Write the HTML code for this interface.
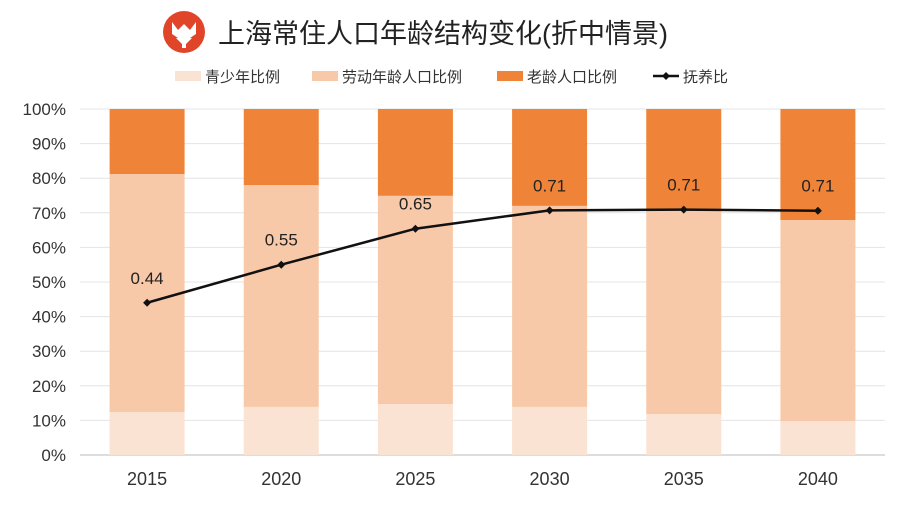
<!DOCTYPE html>
<html><head><meta charset="utf-8"><style>
body{margin:0;background:#fff;width:900px;height:500px;overflow:hidden;font-family:"Liberation Sans","Noto Sans CJK SC",sans-serif;}
</style></head><body>
<svg id="chart" width="900" height="500" xmlns="http://www.w3.org/2000/svg" style="font-family:'Liberation Sans','Noto Sans CJK SC',sans-serif">
<g>
<circle cx="184" cy="32" r="21" fill="#e0452a"/>
<path d="M172 22 L178 30 L184 24 L190 30 L196 22 L196 34 L190 38 L178 38 L172 34 Z" fill="#fff"/>
<path d="M176 38 L192 38 L186 44 L186 48 L182 48 L182 44 Z" fill="#fff"/>
</g>
<text x="218" y="43" font-size="27" fill="#222">上海常住人口年龄结构变化(折中情景)</text>
<g id="legend" font-size="15" fill="#333"></g>
<g id="grid"></g><g id="bars"></g><g id="line"></g><g id="axes"></g>
</svg>
<script>
const years=["2015","2020","2025","2030","2035","2040"];
const youth=[12.4,13.9,14.7,13.9,11.8,9.8];
const working=[68.8,64.1,60.2,58.1,59.2,58.1];
const elderly=[18.8,22.0,25.1,28.0,29.0,32.1];
const ratio=[0.44,0.55,0.654,0.707,0.709,0.706];
const yTicks=[0,10,20,30,40,50,60,70,80,90,100];
const NS="http://www.w3.org/2000/svg";
const x0=80,x1=885,yb=455,yt=109;
const y=v=>yb-(v/100)*(yb-yt);
const band=(x1-x0)/years.length;
const xc=i=>x0+band*(i+0.5);
function mk(tag,attrs,parent){const e=document.createElementNS(NS,tag);for(const k in attrs)e.setAttribute(k,attrs[k]);document.getElementById(parent).appendChild(e);return e;}
yTicks.forEach(t=>{
 const l=mk('line',{x1:x0,x2:x1,y1:y(t),y2:y(t),stroke:t===0?'#bbb':'#e4e4e4','stroke-width':1},'grid');
 
 
 const tx=mk('text',{x:66,y:y(t)+6,'text-anchor':'end','font-size':17,fill:'#333'},'axes');
 tx.textContent=t+'%';
 
 
});
const bw=75;
years.forEach((yr,i)=>{
 let base=0;
 [[youth,'#fbe3d3','bar-youth'],[working,'#f8c9a9','bar-working'],[elderly,'#ef8438','bar-elderly']].forEach(([arr,c,n])=>{
  const v=arr[i];
  const r=mk('rect',{x:xc(i)-bw/2,y:y(Math.min(base+v,100)),width:bw,height:y(base)-y(Math.min(base+v,100)),fill:c},'bars');
  
  
  base+=v;
 });
 const tx=mk('text',{x:xc(i),y:485,'text-anchor':'middle','font-size':18,fill:'#333'},'axes');
 tx.textContent=yr;
 
 
});
const pts=ratio.map((v,i)=>xc(i)+','+y(v*100)).join(' ');
const pl=mk('polyline',{points:pts,fill:'none',stroke:'#111','stroke-width':2.5},'line');


ratio.forEach((v,i)=>{
 const cx=xc(i),cy=y(v*100);
 const m=mk('path',{d:`M${cx} ${cy-4}L${cx+4} ${cy}L${cx} ${cy+4}L${cx-4} ${cy}Z`,fill:'#111'},'line');
 
 
 const t=mk('text',{x:cx,y:cy-19,'text-anchor':'middle','font-size':17,fill:'#222'},'line');
 t.textContent=v.toFixed(2);
 
 
});
const leg=[['青少年比例','#fbe3d3',175,'rect'],['劳动年龄人口比例','#f8c9a9',312,'rect'],['老龄人口比例','#ef8438',497,'rect'],['抚养比','#111',653,'line']];
leg.forEach(([lab,c,lx,type])=>{
 if(type==='rect'){const r=mk('rect',{x:lx,y:71,width:26,height:10,fill:c},'legend');}
 else{const l=mk('line',{x1:lx,x2:lx+26,y1:76,y2:76,stroke:c,'stroke-width':2.5},'legend');
  const d=mk('path',{d:`M${lx+13} 72L${lx+17} 76L${lx+13} 80L${lx+9} 76Z`,fill:c},'legend');}
 const t=mk('text',{x:lx+30,y:82,'font-size':15,fill:'#333'},'legend');
 t.textContent=lab;
 
 
});
</script>
</body></html>
